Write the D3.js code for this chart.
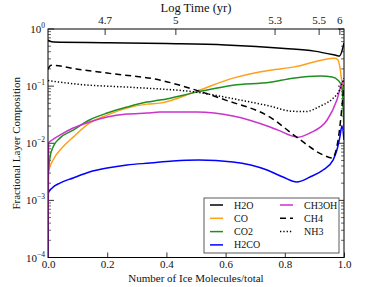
<!DOCTYPE html>
<html>
<head>
<meta charset="utf-8">
<script src="https://cdn.jsdelivr.net/npm/d3@7"></script>
<style>
  body { margin: 0; background: #fff; }
  text { font-family: Liberation Serif, DejaVu Serif, Times New Roman, serif; }
</style>
</head>
<body>
<div id="chart"></div>
<script>
// series: [fraction of ice molecules, layer composition]
var h2o = [[0,0.64],[0.02,0.59],[0.2,0.575],[0.4,0.555],[0.6,0.525],[0.8,0.456],[0.9,0.41],[0.97,0.35],[0.985,0.337],[1.0,0.57]];
var co = [[0,0.0001],[0.001,0.00314],[0.017,0.00508],[0.05,0.00859],[0.085,0.0128],[0.14,0.0225],[0.2,0.0311],[0.267,0.0412],[0.334,0.0484],[0.378,0.0504],[0.503,0.0818],[0.625,0.138],[0.75,0.19],[0.828,0.215],[0.97,0.309],[0.98,0.285],[0.987,0.2],[0.992,0.127],[1.0,0.0851]];
var co2 = [[0,0.0001],[0.001,0.00278],[0.007,0.00574],[0.017,0.00859],[0.04,0.0123],[0.085,0.017],[0.14,0.0255],[0.2,0.0338],[0.267,0.043],[0.334,0.0525],[0.378,0.0569],[0.503,0.0785],[0.625,0.104],[0.75,0.117],[0.828,0.138],[0.92,0.15],[0.96,0.144],[0.98,0.127],[0.993,0.0961],[1.0,0.017]];
var h2co = [[0,0.0001],[0.001,0.00135],[0.014,0.00165],[0.04,0.00201],[0.085,0.00247],[0.14,0.00314],[0.2,0.00368],[0.267,0.00416],[0.345,0.00451],[0.422,0.00489],[0.51,0.00508],[0.625,0.00469],[0.74,0.0034],[0.794,0.00256],[0.841,0.0021],[0.885,0.00256],[0.929,0.0034],[0.963,0.00508],[0.976,0.0076],[0.986,0.0128],[0.993,0.02],[1.0,0.0114]];
var ch3oh = [[0,0.0001],[0.002,0.01007],[0.014,0.0114],[0.04,0.0139],[0.085,0.0185],[0.14,0.0235],[0.2,0.0287],[0.267,0.0324],[0.334,0.0338],[0.378,0.0351],[0.503,0.0351],[0.625,0.0299],[0.75,0.0192],[0.777,0.017],[0.845,0.0128],[0.885,0.0151],[0.943,0.0255],[0.976,0.0569],[0.993,0.113],[1.0,0.127]];
var ch4 = [[0,0.198],[0.01,0.233],[0.1,0.198],[0.2,0.169],[0.38,0.127],[0.5,0.0851],[0.6,0.0569],[0.75,0.0287],[0.84,0.0128],[0.93,0.00622],[0.96,0.00551],[0.98,0.0114],[1.0,0.104]];
var nh3 = [[0,0.125],[0.1,0.108],[0.3,0.0941],[0.5,0.0785],[0.65,0.0569],[0.75,0.0447],[0.82,0.0365],[0.87,0.0358],[0.92,0.0447],[0.96,0.0593],[0.985,0.0851],[1.0,0.138]];

var xTicks = [0, 0.2, 0.4, 0.6, 0.8, 1.0];
var yTicks = [1e-4, 1e-3, 1e-2, 1e-1, 1];
// top axis: log time labels at their fraction positions
var timeLabels = ["4.7", "5", "5.3", "5.5", "6"];
var timeFrac = [0.193, 0.432, 0.767, 0.916, 0.986];

var series = [
  {name: "H2O", data: h2o, color: "#000000", dash: null},
  {name: "CO", data: co, color: "#ff9f1a", dash: null},
  {name: "CO2", data: co2, color: "#1f8f1f", dash: null},
  {name: "H2CO", data: h2co, color: "#0000ff", dash: null},
  {name: "CH3OH", data: ch3oh, color: "#cc33cc", dash: null},
  {name: "CH4", data: ch4, color: "#000000", dash: "6,4"},
  {name: "NH3", data: nh3, color: "#000000", dash: "1.3,2"}
];

var font = 'Liberation Serif';

var margin = {top: 29, right: 38, bottom: 29.5, left: 48};
var width = 382, height = 287;
var chartWidth = width - margin.left - margin.right;
var chartHeight = height - margin.top - margin.bottom;

var svg = d3.select('#chart').append('svg')
    .attr('width', width)
    .attr('height', height)
    .attr('font-family', font);

var g = svg.append('g')
    .attr('transform', `translate(${margin.left}, ${margin.top})`);

var xScale = d3.scaleLinear().domain([0, 1]).range([0, chartWidth]);
var yScale = d3.scaleLog().domain([1e-4, 1]).range([chartHeight, 0]);

g.append('clipPath').attr('id', 'clip')
  .append('rect').attr('width', chartWidth).attr('height', chartHeight);

// minor ticks on the log axis
var minor = [];
[1e-4, 1e-3, 1e-2, 1e-1].forEach(function(d) {
  for (var k = 2; k < 10; k++) minor.push(d * k);
});

// bottom axis, ticks pointing inward
var bottom = g.append('g')
  .attr('transform', `translate(0,${chartHeight})`)
  .call(d3.axisBottom(xScale).tickValues(xTicks).tickSizeInner(-5).tickSizeOuter(0)
    .tickPadding(3).tickFormat(d3.format('.1f')));
bottom.attr('font-family', font).attr('font-size', 11);
bottom.select('.domain').remove();
bottom.selectAll('line').attr('stroke', '#000').attr('stroke-width', 0.8);
bottom.selectAll('text').attr('fill', '#111');

// top axis (log time)
var topAxis = g.append('g');
topAxis.selectAll('line').data(timeFrac).enter().append('line')
  .attr('x1', function(d) { return xScale(d); })
  .attr('x2', function(d) { return xScale(d); })
  .attr('y1', 0).attr('y2', 6)
  .attr('stroke', '#000').attr('stroke-width', 0.8);
topAxis.selectAll('text').data(timeLabels).enter().append('text')
  .attr('x', function(d, i) { return xScale(timeFrac[i]); })
  .attr('y', -5)
  .attr('text-anchor', 'middle')
  .attr('font-size', 11)
  .attr('fill', '#111')
  .text(function(d) { return d; });

// left and right axes
[0, chartWidth].forEach(function(x0, side) {
  var dir = side === 0 ? 1 : -1;
  var ax = g.append('g');
  ax.selectAll('.major').data(yTicks).enter().append('line')
    .attr('x1', x0).attr('x2', x0 + dir * 6)
    .attr('y1', function(d) { return yScale(d); })
    .attr('y2', function(d) { return yScale(d); })
    .attr('stroke', '#000').attr('stroke-width', 0.8);
  ax.selectAll('.minor').data(minor).enter().append('line')
    .attr('x1', x0).attr('x2', x0 + dir * 3)
    .attr('y1', function(d) { return yScale(d); })
    .attr('y2', function(d) { return yScale(d); })
    .attr('stroke', '#000').attr('stroke-width', 0.6);
});

// y tick labels as 10^n
var yLab = g.append('g').selectAll('text').data(yTicks).enter().append('text')
  .attr('x', -3)
  .attr('y', function(d) { return yScale(d) + 4; })
  .attr('text-anchor', 'end')
  .attr('font-size', 11)
  .attr('fill', '#111');
yLab.append('tspan').text('10');
yLab.append('tspan')
  .attr('dy', -5)
  .attr('font-size', 7.5)
  .text(function(d) { var e = Math.round(Math.log10(d)); return e === 0 ? '0' : '\u2212' + (-e); });

// lines
var line = d3.line()
  .x(function(d) { return xScale(d[0]); })
  .y(function(d) { return yScale(d[1]); })
  .curve(d3.curveMonotoneX);

g.append('g').attr('clip-path', 'url(#clip)')
  .selectAll('path').data(series).enter().append('path')
  .attr('d', function(d) { return line(d.data); })
  .attr('fill', 'none')
  .attr('stroke', function(d) { return d.color; })
  .attr('stroke-width', 1.5)
  .attr('stroke-dasharray', function(d) { return d.dash; });

// frame
g.append('rect')
  .attr('width', chartWidth).attr('height', chartHeight)
  .attr('fill', 'none').attr('stroke', '#000').attr('stroke-width', 1);

// legend
var legend = g.append('g').attr('transform', `translate(${204 - margin.left}, ${198 - margin.top})`);
legend.append('rect')
  .attr('width', 135).attr('height', 55)
  .attr('fill', '#fff').attr('stroke', '#333').attr('stroke-width', 0.8);
var item = legend.selectAll('.item').data(series).enter().append('g')
  .attr('transform', function(d, i) {
    var col = i < 4 ? 0 : 1, row = i < 4 ? i : i - 4;
    return `translate(${col * 70 + 6}, ${7 + row * 13.3})`;
  });
item.append('line')
  .attr('x1', 0).attr('x2', 13)
  .attr('stroke', function(d) { return d.color; })
  .attr('stroke-width', 1.5)
  .attr('stroke-dasharray', function(d) { return d.dash; });
item.append('text')
  .attr('x', 24).attr('y', 3.5)
  .attr('font-size', 10)
  .attr('fill', '#111')
  .text(function(d) { return d.name; });

// titles
svg.append('text')
  .attr('x', margin.left + chartWidth / 2).attr('y', 12)
  .attr('text-anchor', 'middle')
  .attr('font-size', 12.5)
  .attr('fill', '#111')
  .text('Log Time (yr)');

svg.append('text')
  .attr('x', margin.left + chartWidth / 2).attr('y', 282)
  .attr('text-anchor', 'middle')
  .attr('font-size', 11)
  .attr('fill', '#111')
  .text('Number of Ice Molecules/total');

svg.append('text')
  .attr('transform', `translate(20, ${margin.top + chartHeight / 2}) rotate(-90)`)
  .attr('text-anchor', 'middle')
  .attr('font-size', 11)
  .attr('fill', '#111')
  .text('Fractional Layer Composition');
</script>
</body>
</html>
